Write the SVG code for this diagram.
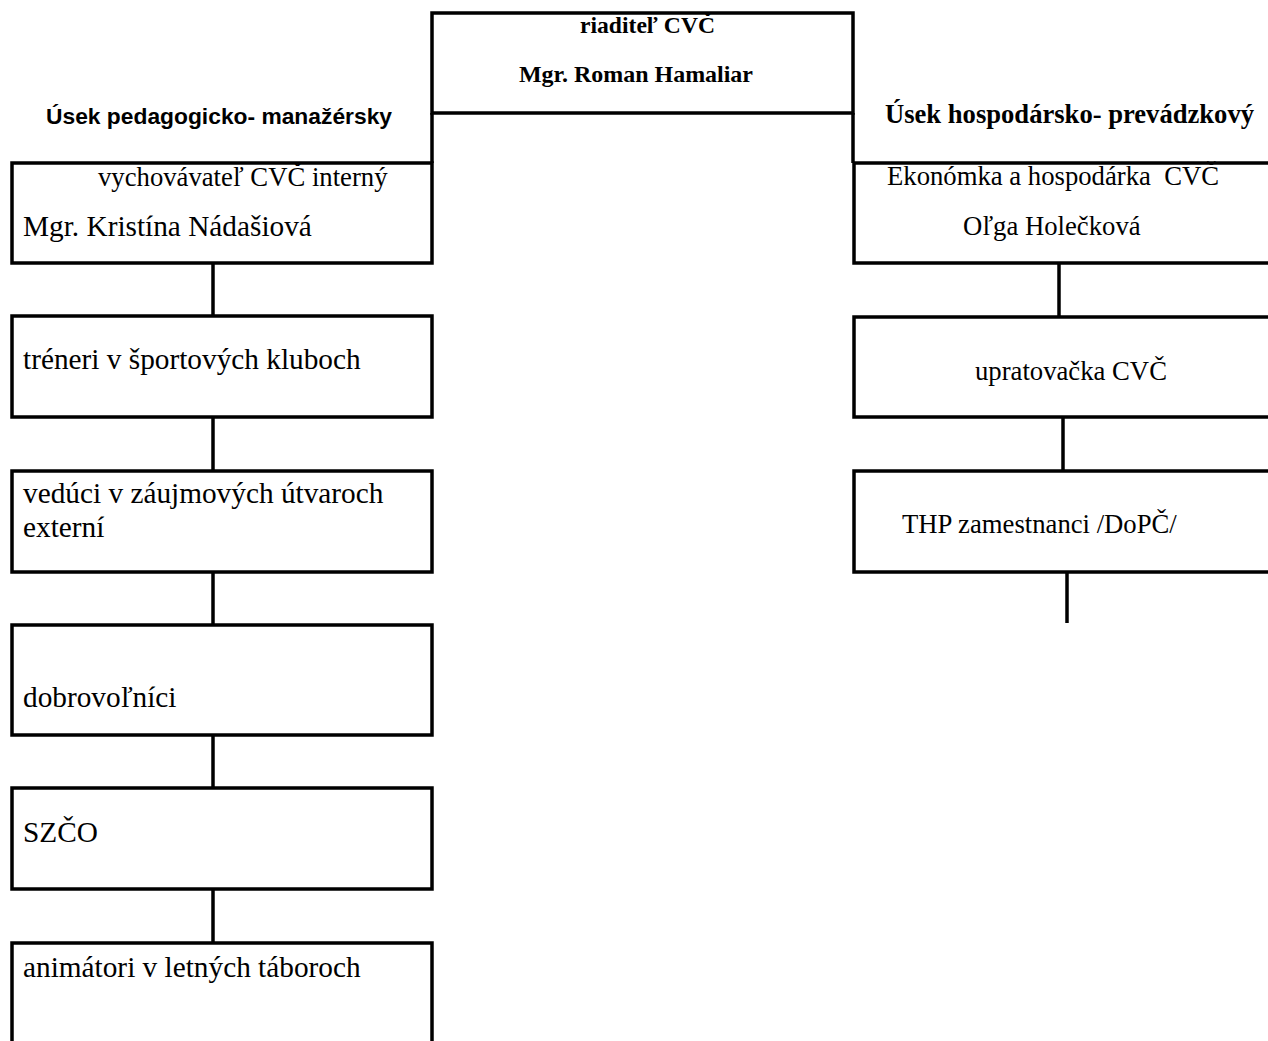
<svg xmlns="http://www.w3.org/2000/svg" width="1268" height="1041" viewBox="0 0 1268 1041">
<style>
.box{fill:#fff;stroke:#000;stroke-width:3.5}
.con line{stroke:#000;stroke-width:3.5}
.t{font-family:"Liberation Serif","Times New Roman",serif;fill:#000}
.tb{font-family:"Liberation Serif","Times New Roman",serif;font-weight:bold;fill:#000}
.s{font-family:"Liberation Sans",Arial,sans-serif;font-weight:bold;fill:#000}
.l{font-size:29.3px}
.m{font-size:26.7px}
</style>
<rect width="1268" height="1041" fill="#fff"/>
<g id="connectors" class="con">
<line x1="432" y1="113" x2="432" y2="163"/>
<line x1="853" y1="113" x2="853" y2="163"/>
<line x1="213" y1="263" x2="213" y2="316"/>
<line x1="213" y1="417" x2="213" y2="471"/>
<line x1="213" y1="572" x2="213" y2="625"/>
<line x1="213" y1="735" x2="213" y2="788"/>
<line x1="213" y1="889" x2="213" y2="943"/>
<line x1="1059" y1="263" x2="1059" y2="317"/>
<line x1="1063" y1="417" x2="1063" y2="471"/>
<line x1="1067" y1="572" x2="1067" y2="623"/>
</g>
<g id="director">
<rect class="box" x="432" y="13" width="421" height="100"/>
<text class="tb" x="580" y="33" font-size="23.8px" textLength="135" lengthAdjust="spacingAndGlyphs">riaditeľ CVČ</text>
<text class="tb" x="519" y="82" font-size="23.8px" textLength="234" lengthAdjust="spacingAndGlyphs">Mgr. Roman Hamaliar</text>
</g>
<g id="header-left">
<text class="s" x="46" y="124" font-size="22px" textLength="346" lengthAdjust="spacingAndGlyphs">Úsek pedagogicko- manažérsky</text>
</g>
<g id="header-right">
<text class="tb" x="885" y="123" font-size="26.5px" textLength="369" lengthAdjust="spacingAndGlyphs">Úsek hospodársko- prevádzkový</text>
</g>
<g id="vychovavatel">
<rect class="box" x="12" y="163" width="420" height="100"/>
<text class="t m" x="98" y="186">vychovávateľ CVČ interný</text>
<text class="t l" x="23" y="236">Mgr. Kristína Nádašiová</text>
</g>
<g id="treneri">
<rect class="box" x="12" y="316" width="420" height="101"/>
<text class="t l" x="23" y="369">tréneri v športových kluboch</text>
</g>
<g id="veduci">
<rect class="box" x="12" y="471" width="420" height="101"/>
<text class="t l" x="23" y="503">vedúci v záujmových útvaroch</text>
<text class="t l" x="23" y="537">externí</text>
</g>
<g id="dobrovolnici">
<rect class="box" x="12" y="625" width="420" height="110"/>
<text class="t l" x="23" y="707">dobrovoľníci</text>
</g>
<g id="szco">
<rect class="box" x="12" y="788" width="420" height="101"/>
<text class="t l" x="23" y="842">SZČO</text>
</g>
<g id="animatori">
<rect class="box" x="12" y="943" width="420" height="130"/>
<text class="t l" x="23" y="977">animátori v letných táboroch</text>
</g>
<g id="ekonomka">
<rect class="box" x="854" y="163" width="430" height="100"/>
<text class="t m" x="887" y="185" xml:space="preserve">Ekonómka a hospodárka  CVČ</text>
<text class="t m" x="963" y="235">Oľga Holečková</text>
</g>
<g id="upratovacka">
<rect class="box" x="854" y="317" width="430" height="100"/>
<text class="t m" x="975" y="380">upratovačka CVČ</text>
</g>
<g id="thp">
<rect class="box" x="854" y="471" width="430" height="101"/>
<text class="t m" x="902" y="533">THP zamestnanci /DoPČ/</text>
</g>
</svg>
